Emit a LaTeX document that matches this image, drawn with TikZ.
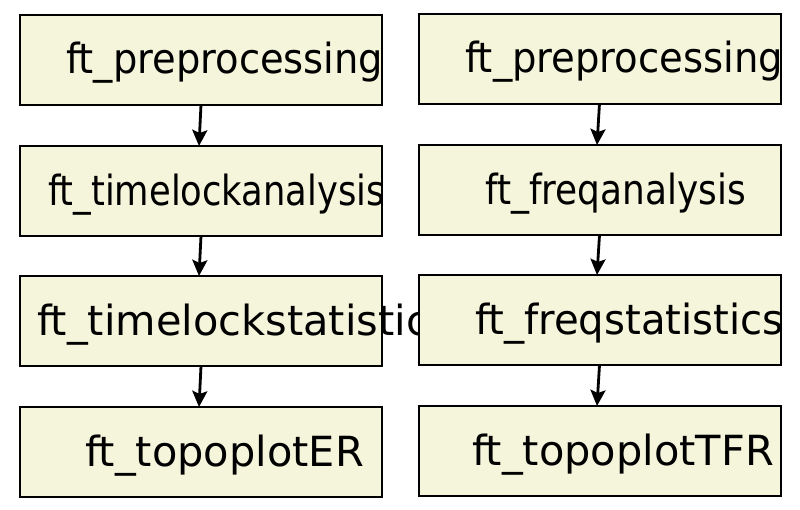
\documentclass[tikz,border=0pt]{standalone}
\usepackage{fontspec}
\setmainfont{DejaVu Sans}
\usetikzlibrary{arrows.meta}
\definecolor{boxfill}{HTML}{F5F5DC}
\tikzset{
  box/.style={draw=black, line width=2pt, fill=boxfill, minimum width=362pt, minimum height=90pt, inner sep=0pt, outer sep=0pt},
  lbl/.style={anchor=base west, inner sep=0pt, outer sep=0pt, font=\fontsize{41.5}{41.5}\selectfont},
  arr/.style={line width=2.8pt, -{Stealth[length=16pt,width=15pt,inset=3pt]}},
}
\begin{document}
\begin{tikzpicture}[x=1pt,y=-1pt]
\useasboundingbox (0,0) rectangle (800,509);
% left column
\node[box] (L1) at (201,59.5) {};
\node[box] (L2) at (201,191) {};
\node[box] (L3) at (201,321) {};
\node[box] (L4) at (201,452) {};
\node[lbl] (tL1) at (66,73.5) {\scalebox{0.926}[1]{ft\_preprocessing}};
\node[lbl] (tL2) at (48,205) {\scalebox{0.851}[1]{ft\_timelockanalysis}};
\node[lbl] (tL3) at (37,335) {ft\_timelockstatistics};
\node[lbl] (tL4) at (85,466) {ft\_topoplotER};
\draw[arr] (L1.south) -- ([xshift=-2pt]L2.north);
\draw[arr] (L2.south) -- ([xshift=-2pt]L3.north);
\draw[arr] (L3.south) -- ([xshift=-2pt]L4.north);
% right column
\node[box] (R1) at (599.5,58.5) {};
\node[box] (R2) at (599.5,190) {};
\node[box] (R3) at (599.5,320) {};
\node[box] (R4) at (599.5,451) {};
\node[lbl] (tR1) at (465,72.5) {\scalebox{0.929}[1]{ft\_preprocessing}};
\node[lbl] (tR2) at (485,204) {\scalebox{0.865}[1]{ft\_freqanalysis}};
\node[lbl] (tR3) at (475,334) {\scalebox{0.969}[1]{ft\_freqstatistics}};
\node[lbl] (tR4) at (472,465) {ft\_topoplotTFR};
\draw[arr] (R1.south) -- ([xshift=-2.5pt]R2.north);
\draw[arr] (R2.south) -- ([xshift=-2.5pt]R3.north);
\draw[arr] (R3.south) -- ([xshift=-2.5pt]R4.north);
\end{tikzpicture}
\end{document}
